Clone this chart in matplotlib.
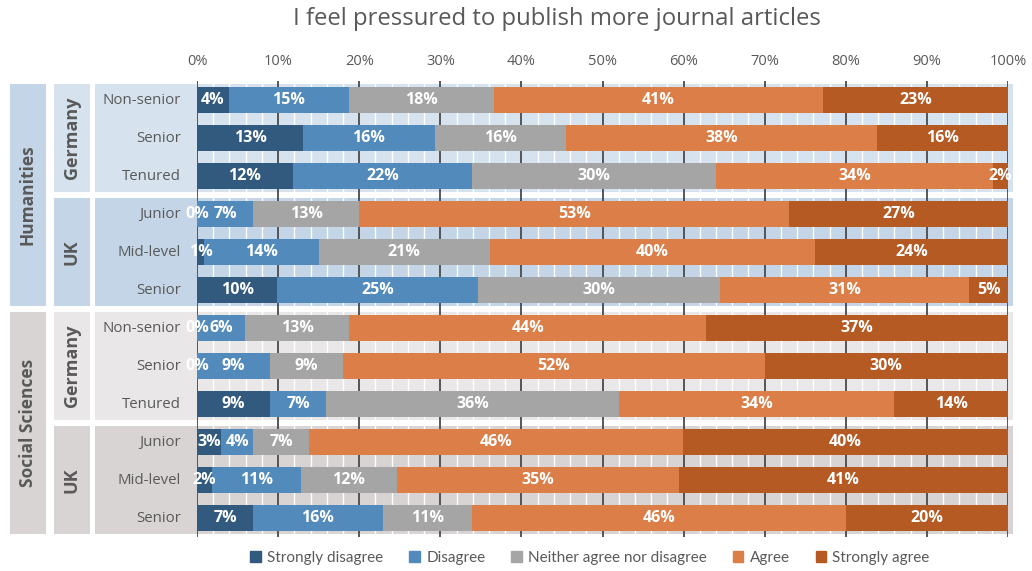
import matplotlib.pyplot as plt
from matplotlib.patches import Rectangle, Patch

# row labels, top to bottom
positions = ['Non-senior', 'Senior', 'Tenured', 'Junior', 'Mid-level', 'Senior',
             'Non-senior', 'Senior', 'Tenured', 'Junior', 'Mid-level', 'Senior']
countries = ['Germany', 'UK', 'Germany', 'UK']
disciplines = ['Humanities', 'Social Sciences']

# shares in percent
strongly_disagree = [3.9, 13.1, 11.8, 0.0, 0.9, 9.9, 0.0, 0.0, 9.0, 3.0, 1.8, 6.9]
disagree = [14.8, 16.2, 22.1, 6.9, 14.1, 24.8, 5.9, 9.0, 6.9, 3.9, 11.0, 16.0]
neither = [17.9, 16.2, 30.1, 13.1, 21.1, 29.8, 12.9, 9.0, 36.1, 6.9, 11.8, 11.0]
agree = [40.6, 38.3, 34.2, 53.0, 40.1, 30.7, 44.0, 52.0, 34.0, 46.1, 34.8, 46.1]
strongly_agree = [22.8, 16.2, 1.8, 27.0, 23.8, 4.8, 37.2, 30.0, 14.0, 40.1, 40.6, 20.0]

series = [strongly_disagree, disagree, neither, agree, strongly_agree]
names = ['Strongly disagree', 'Disagree', 'Neither agree nor disagree', 'Agree', 'Strongly agree']
colors = ['#325a7e', '#528abb', '#a5a5a5', '#dc7e47', '#b65a24']

band_colors = ['#d6e3ee', '#c3d5e6', '#e9e7e8', '#d8d4d4']
outer_colors = ['#c3d5e6', '#d8d4d4']
gray = '#595959'

W, H = 1032, 571
fig = plt.figure(figsize=(W / 100, H / 100), dpi=100)
top, bot = 81, 537
n = len(positions)

# background panel in pixel x coordinates
bg = fig.add_axes([0, 1 - bot / H, 1, (bot - top) / H])
bg.set_xlim(0, W)
bg.set_ylim(n - 0.5, -0.5)
bg.axis('off')

g = 0.08
for k in range(4):
    y0 = 3 * k - 0.5 + g
    h = 3 - 2 * g
    bg.add_patch(Rectangle((95, y0), 1013 - 95, h, color=band_colors[k], lw=0))
    bg.add_patch(Rectangle((54, y0), 36, h, color=band_colors[k], lw=0))
    bg.text(72, 3 * k + 1, countries[k], rotation=90, ha='center', va='center',
            fontsize=13, fontweight='bold', color=gray, family='Open Sans')
for k in range(2):
    y0 = 6 * k - 0.5 + g
    bg.add_patch(Rectangle((10, y0), 36, 6 - 2 * g, color=outer_colors[k], lw=0))
    bg.text(28, 6 * k + 2.5, disciplines[k], rotation=90, ha='center', va='center',
            fontsize=12.5, fontweight='bold', color=gray, family='Open Sans')
for i, lab in enumerate(positions):
    bg.text(181, i, lab, ha='right', va='center', fontsize=10.8, color=gray, family='Open Sans')

# bars
ax = fig.add_axes([197 / W, 1 - bot / H, (1008 - 197) / W, (bot - top) / H])
ax.set_facecolor('none')
ax.set_xlim(0, 100)
ax.set_ylim(n - 0.5, -0.5)
ax.set_axisbelow(True)
ax.set_xticks(range(0, 101, 10))
ax.set_xticks(range(0, 101, 2), minor=True)
ax.set_xticklabels([f'{v}%' for v in range(0, 101, 10)], fontsize=10.5, color=gray, family='Open Sans')
ax.xaxis.tick_top()
ax.tick_params(axis='x', which='both', length=0, pad=8.5)
ax.set_yticks([])
ax.grid(axis='x', which='minor', color='white', lw=1)
ax.grid(axis='x', which='major', color='#4a4a4a', lw=1.3)
for s in ax.spines.values():
    s.set_visible(False)

left = [0.0] * n
for vals, c in zip(series, colors):
    ax.barh(range(n), vals, left=left, height=0.68, color=c, zorder=3)
    for i, v in enumerate(vals):
        ax.text(left[i] + v / 2, i, f'{v:.0f}%', ha='center', va='center', color='white',
                fontsize=11.5, fontweight='bold', family='Open Sans', zorder=4)
    left = [a + b for a, b in zip(left, vals)]

fig.text(557 / W, 1 - 19 / H, 'I feel pressured to publish more journal articles',
         ha='center', va='center', fontsize=17.2, color=gray, family='Open Sans')

handles = [Patch(color=c, label=nm) for c, nm in zip(colors, names)]
fig.legend(handles=handles, loc='center', bbox_to_anchor=(590 / W, 1 - 558 / H), ncol=5,
           frameon=False, handlelength=0.7, handleheight=0.7, handletextpad=0.4,
           columnspacing=1.7, prop={'family': 'Lato', 'size': 11}, labelcolor=gray)

fig.savefig('out.png', dpi=100)
